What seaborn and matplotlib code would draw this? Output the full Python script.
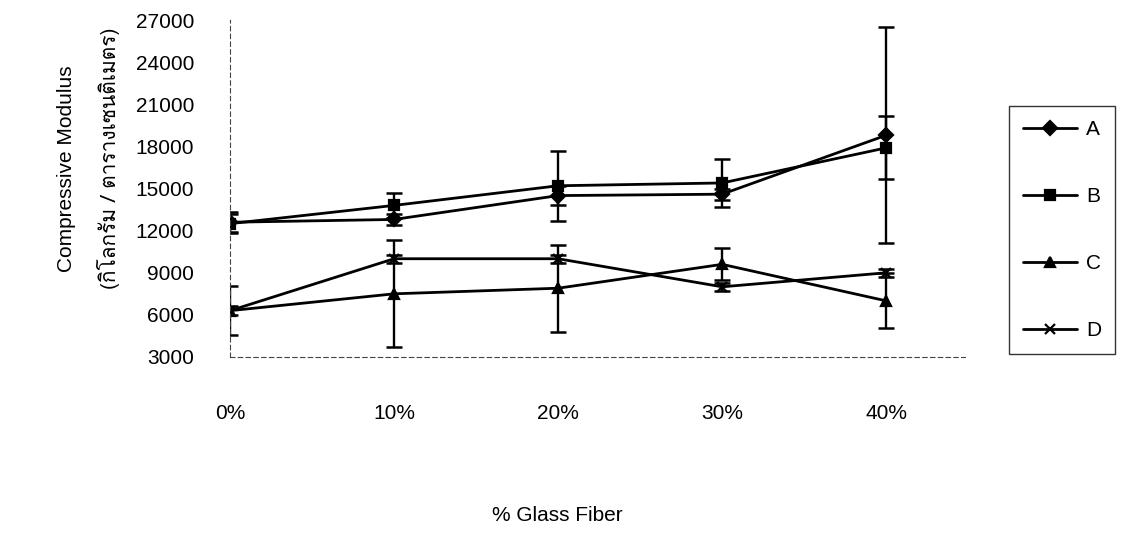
import numpy as np
import pandas as pd
import matplotlib
matplotlib.use("Agg")
import matplotlib.pyplot as plt
import seaborn as sns
from matplotlib import font_manager
from matplotlib.ft2font import FT2Font

# ข้อมูลจากกราฟ
fiber = ['0%', '10%', '20%', '30%', '40%']
series = ['A', 'B', 'C', 'D']
mod_A = [12600, 12800, 14500, 14600, 18800]
mod_B = [12500, 13800, 15200, 15400, 17900]
mod_C = [6300, 7500, 7900, 9600, 7000]
mod_D = [6300, 10000, 10000, 8000, 9000]
err_A = [700, 400, 700, 400, 7700]
err_B = [700, 900, 2500, 1700, 2250]
err_C = [1750, 3800, 3100, 1150, 1950]
err_D = [300, 300, 300, 300, 300]
yticks = [3000, 6000, 9000, 12000, 15000, 18000, 21000, 24000, 27000]

sns.set_theme(style='white')
plt.rcParams['font.family'] = ['Liberation Sans', 'DejaVu Sans']
plt.rcParams['text.color'] = 'black'
plt.rcParams['axes.labelcolor'] = 'black'


def thai_font():
    # หาฟอนต์ที่มีตัวอักษรไทย
    for f in font_manager.fontManager.ttflist:
        try:
            if FT2Font(f.fname).get_char_index(ord('ก')):
                return f.name
        except Exception:
            pass
    return 'DejaVu Sans'


df = pd.DataFrame({
    'fiber': fiber * 4,
    'x': list(range(5)) * 4,
    'series': [s for s in series for _ in fiber],
    'modulus': mod_A + mod_B + mod_C + mod_D,
    'err': err_A + err_B + err_C + err_D,
})

fig = plt.figure(figsize=(11.22, 5.45), dpi=100)
ax = fig.add_axes([0.205, 0.345, 0.655, 0.618])

markers = {'A': 'D', 'B': 's', 'C': '^', 'D': 'x'}
for s in series:
    d = df[df['series'] == s]
    sns.lineplot(data=d, x='x', y='modulus', color='black', marker=markers[s],
                 linewidth=2.0, markersize=7.5, markeredgewidth=1.6,
                 markeredgecolor='black', ax=ax)
    ax.errorbar(d['x'], d['modulus'], yerr=d['err'], fmt='none',
                ecolor='black', elinewidth=1.7, capsize=6, capthick=1.8)

ax.set_xlim(0, 4.48)
ax.set_ylim(3000, 27000)
ax.set_yticks(yticks)
ax.set_yticklabels([str(v) for v in yticks], fontsize=15)
ax.set_xticks(range(5))
ax.set_xticklabels(fiber, fontsize=15)
ax.tick_params(axis='x', direction='inout', length=8, width=0.8, pad=30, colors='black')
ax.tick_params(axis='y', direction='inout', length=8, width=0.8, pad=22, colors='black')
ax.set_xlabel('')
ax.set_ylabel('')

for side in ['top', 'right']:
    ax.spines[side].set_visible(False)
for side in ['left', 'bottom']:
    ax.spines[side].set_linestyle((0, (4, 3)))
    ax.spines[side].set_linewidth(0.8)
    ax.spines[side].set_color('#444444')

fig.text(0.497, 0.055, '% Glass Fiber', fontsize=15, ha='center', va='center')
fig.text(0.059, 0.69, 'Compressive Modulus', fontsize=15, rotation=90,
         ha='center', va='center')
fig.text(0.097, 0.71, '(กิโลกรัม / ตารางเซนติเมตร)', fontsize=15, rotation=90,
         ha='center', va='center', family=[thai_font(), 'DejaVu Sans'])

handles = [plt.Line2D([], [], color='black', lw=2.0, marker=markers[s],
                      markersize=7.5, markeredgewidth=1.6) for s in series]
leg = fig.legend(handles, series, loc='center left',
                 bbox_to_anchor=(0.899, 0.578), frameon=True, fontsize=15,
                 handlelength=2.6, labelspacing=2.3, borderpad=0.7,
                 borderaxespad=0, fancybox=False, handletextpad=0.4)
leg.get_frame().set_edgecolor('black')
leg.get_frame().set_linewidth(1.0)

fig.savefig('out.png', dpi=100)
